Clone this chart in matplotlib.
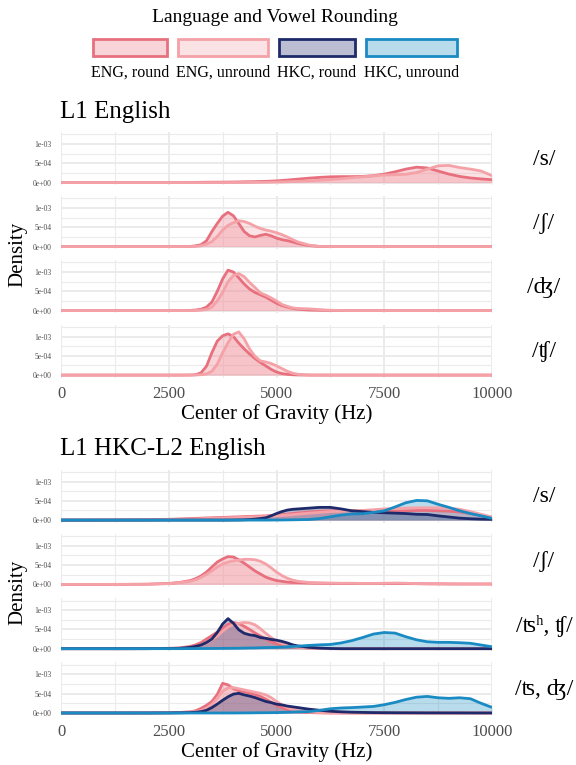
import matplotlib
matplotlib.use("Agg")
import matplotlib.pyplot as plt
from matplotlib.patches import Rectangle
import numpy as np

cog_hz = [0, 500, 1000, 1500, 2000, 2500,
          2750, 3000,
          3125, 3250, 3375, 3500, 3625, 3750, 3875, 4000,
          4125, 4250, 4375, 4500, 4625, 4750, 4875, 5000,
          5125, 5250, 5375, 5500,
          5750, 6000, 6250, 6500, 6750, 7000, 7250, 7500, 7750,
          8000, 8250, 8500, 8750, 9000, 9250, 9500, 9750, 10000]

groups = ["ENG, round", "ENG, unround", "HKC, round", "HKC, unround"]
line_colors = ["#E8707E", "#F4A2A8", "#1E2A6A", "#1A8BC2"]

# densities in units of 1e-4
# ---- L1 English ----
l1_s_eng_round = [0, 0, 0, 0, 0, 0.01,
                  0.02, 0.05,
                  0.06, 0.08, 0.09, 0.10, 0.11, 0.12, 0.13, 0.15,
                  0.17, 0.20, 0.22, 0.25, 0.28, 0.32, 0.38, 0.45,
                  0.55, 0.65, 0.78, 0.90,
                  1.15, 1.35, 1.50, 1.55, 1.55, 1.60, 1.80, 2.20, 2.80,
                  3.50, 4.00, 3.80, 3.00, 2.20, 1.60, 1.20, 0.95, 0.75]
l1_s_eng_unround = [0, 0, 0, 0, 0, 0,
                    0, 0,
                    0, 0, 0, 0, 0, 0.01, 0.01, 0.02,
                    0.02, 0.03, 0.04, 0.05, 0.07, 0.09, 0.12, 0.15,
                    0.18, 0.22, 0.27, 0.32,
                    0.45, 0.60, 0.80, 1.00, 1.25, 1.50, 1.75, 1.95, 2.05,
                    2.15, 2.60, 3.50, 4.35, 4.45, 3.90, 3.50, 3.00, 1.80]
l1_sh_eng_round = [0, 0, 0, 0, 0, 0,
                   0.01, 0.05,
                   0.2, 0.5, 1.5, 3.9, 6.0, 7.9, 8.9, 8.0,
                   6.0, 3.9, 2.8, 2.5, 2.9, 3.2, 2.8, 2.2,
                   1.8, 1.55, 1.2, 0.8,
                   0.25, 0.03, 0, 0, 0, 0, 0, 0, 0,
                   0, 0, 0, 0, 0, 0, 0, 0, 0]
l1_sh_eng_unround = [0, 0, 0, 0, 0, 0,
                     0, 0.02,
                     0.05, 0.2, 0.6, 1.3, 2.6, 4.3, 5.5, 6.2,
                     6.7, 6.5, 6.0, 5.3, 4.7, 4.3, 4.0, 3.6,
                     3.1, 2.5, 1.8, 1.2,
                     0.4, 0.05, 0, 0, 0, 0, 0, 0, 0,
                     0, 0, 0, 0, 0, 0, 0, 0, 0]
l1_dz_eng_round = [0, 0, 0, 0, 0, 0,
                   0, 0.05,
                   0.15, 0.35, 0.9, 2.2, 5.0, 8.2, 10.5, 10.0,
                   8.5, 6.9, 5.6, 4.7, 4.1, 3.5, 2.7, 1.9,
                   1.3, 0.9, 0.55, 0.35,
                   0.15, 0.08, 0.03, 0, 0, 0, 0, 0, 0,
                   0, 0, 0, 0, 0, 0, 0, 0, 0]
l1_dz_eng_unround = [0, 0, 0, 0, 0, 0,
                     0, 0,
                     0.03, 0.1, 0.3, 0.9, 2.5, 4.7, 7.5, 9.1,
                     9.6, 8.8, 7.3, 6.0, 4.6, 4.0, 3.3, 2.5,
                     1.6, 1.1, 0.7, 0.55,
                     0.45, 0.25, 0.08, 0.02, 0, 0, 0, 0, 0,
                     0, 0, 0, 0, 0, 0, 0, 0, 0]
l1_ch_eng_round = [0, 0, 0, 0, 0, 0,
                   0, 0.02,
                   0.1, 0.6, 2.3, 5.8, 8.8, 10.2, 10.7, 10.0,
                   8.3, 6.8, 5.5, 4.3, 3.3, 2.4, 1.5, 0.8,
                   0.4, 0.2, 0.08, 0.03,
                   0, 0, 0, 0, 0, 0, 0, 0, 0,
                   0, 0, 0, 0, 0, 0, 0, 0, 0]
l1_ch_eng_unround = [0, 0, 0, 0, 0, 0,
                     0, 0,
                     0.03, 0.1, 0.3, 1.0, 2.8, 5.8, 8.4, 10.6,
                     11.2, 9.4, 6.8, 4.9, 3.7, 3.4, 3.0, 2.4,
                     1.7, 1.0, 0.5, 0.2,
                     0.03, 0, 0, 0, 0, 0, 0, 0, 0,
                     0, 0, 0, 0, 0, 0, 0, 0, 0]

# ---- L1 HKC-L2 English ----
l2_s_eng_round = [0, 0, 0.02, 0.05, 0.1, 0.2,
                  0.3, 0.4,
                  0.45, 0.5, 0.55, 0.6, 0.65, 0.7, 0.75, 0.8,
                  0.85, 0.9, 0.95, 1.0, 1.05, 1.1, 1.2, 1.3,
                  1.4, 1.55, 1.7, 1.85,
                  2.1, 2.3, 2.4, 2.45, 2.45, 2.4, 2.35, 2.3, 2.3,
                  2.4, 2.5, 2.5, 2.4, 2.3, 2.1, 1.7, 1.2, 0.7]
l2_s_eng_unround = [0, 0, 0.01, 0.03, 0.06, 0.12,
                    0.18, 0.25,
                    0.3, 0.35, 0.4, 0.45, 0.5, 0.55, 0.6, 0.65,
                    0.7, 0.75, 0.8, 0.85, 0.9, 0.95, 1.0, 1.1,
                    1.2, 1.3, 1.4, 1.55,
                    1.8, 2.0, 2.2, 2.3, 2.4, 2.5, 2.7, 2.9, 3.0,
                    3.1, 3.2, 3.2, 3.2, 3.1, 2.8, 2.2, 1.5, 0.8]
l2_s_hkc_round = [0, 0, 0, 0, 0, 0,
                  0, 0,
                  0, 0, 0, 0, 0, 0, 0.01, 0.02,
                  0.04, 0.08, 0.15, 0.25, 0.4, 0.6, 1.1, 1.7,
                  2.2, 2.6, 2.8, 2.9,
                  3.1, 3.3, 3.3, 2.9, 2.4, 2.2, 2.0, 1.9, 1.8,
                  1.7, 1.5, 1.45, 1.1, 0.8, 0.5, 0.35, 0.25, 0.2]
l2_s_hkc_unround = [0, 0, 0, 0, 0, 0,
                    0, 0,
                    0, 0, 0, 0, 0, 0, 0, 0,
                    0, 0, 0, 0, 0, 0, 0.01, 0.02,
                    0.03, 0.05, 0.07, 0.1,
                    0.15, 0.4, 0.85, 1.3, 1.6, 1.65, 2.0, 2.4, 3.4,
                    4.5, 5.1, 5.0, 4.1, 3.3, 2.4, 1.7, 1.1, 0.45]
l2_sh_eng_round = [0, 0, 0, 0.01, 0.05, 0.25,
                   0.5, 1.0,
                   1.5, 2.2, 3.2, 4.5, 5.8, 6.6, 7.2, 7.1,
                   6.4, 5.5, 4.5, 3.5, 2.7, 1.9, 1.4, 1.0,
                   0.8, 0.6, 0.5, 0.45,
                   0.35, 0.3, 0.25, 0.22, 0.2, 0.2, 0.2, 0.2, 0.2,
                   0.2, 0.18, 0.15, 0.15, 0.12, 0.1, 0.1, 0.1, 0.1]
l2_sh_eng_unround = [0, 0, 0, 0.01, 0.04, 0.2,
                     0.45, 0.8,
                     1.2, 1.8, 2.6, 3.5, 4.5, 5.3, 5.8, 6.1,
                     6.3, 6.5, 6.5, 6.4, 6.0, 5.3, 4.3, 3.2,
                     2.3, 1.6, 1.1, 0.8,
                     0.5, 0.4, 0.35, 0.3, 0.3, 0.25, 0.25, 0.3, 0.35,
                     0.3, 0.2, 0.15, 0.12, 0.1, 0.1, 0.1, 0.1, 0.1]
l2_ch_eng_round = [0, 0, 0, 0, 0.02, 0.1,
                   0.2, 0.6,
                   1.0, 1.6, 2.5, 3.4, 4.3, 5.3, 6.3, 6.8,
                   6.5, 5.8, 5.0, 4.1, 3.3, 2.5, 1.8, 1.3,
                   0.9, 0.6, 0.4, 0.3,
                   0.15, 0.05, 0, 0, 0, 0, 0, 0, 0,
                   0, 0, 0, 0, 0, 0, 0, 0, 0]
l2_ch_eng_unround = [0, 0, 0, 0, 0.01, 0.05,
                     0.1, 0.3,
                     0.5, 0.9, 1.5, 2.3, 3.3, 4.5, 5.6, 6.3,
                     6.6, 6.8, 6.7, 6.2, 5.2, 4.0, 2.9, 2.0,
                     1.4, 0.9, 0.6, 0.4,
                     0.2, 0.1, 0.03, 0, 0, 0, 0, 0, 0,
                     0, 0, 0, 0, 0, 0, 0, 0, 0]
l2_ch_hkc_round = [0, 0, 0, 0, 0.01, 0.05,
                   0.1, 0.35,
                   0.6, 0.95, 1.6, 2.5, 4.2, 6.4, 7.8, 6.6,
                   4.9, 4.0, 3.6, 3.4, 2.9, 2.7, 2.4, 2.2,
                   1.9, 1.5, 1.0, 0.7,
                   0.35, 0.15, 0.05, 0, 0, 0, 0, 0, 0,
                   0, 0, 0, 0, 0, 0, 0, 0, 0]
l2_ch_hkc_unround = [0, 0, 0, 0, 0, 0.01,
                     0.01, 0.02,
                     0.03, 0.04, 0.05, 0.06, 0.07, 0.08, 0.09, 0.1,
                     0.12, 0.15, 0.18, 0.2, 0.24, 0.28, 0.32, 0.35,
                     0.42, 0.5, 0.58, 0.65,
                     0.85, 1.0, 1.1, 1.5, 2.1, 2.9, 3.8, 4.2, 4.05,
                     3.1, 2.3, 1.8, 1.65, 1.65, 1.55, 1.4, 0.95, 0.5]
l2_dz_eng_round = [0, 0, 0, 0, 0.02, 0.08,
                   0.15, 0.3,
                   0.6, 1.2, 2.0, 3.0, 4.8, 7.7, 7.3, 6.3,
                   5.8, 5.5, 5.2, 4.8, 4.3, 3.6, 2.8, 2.0,
                   1.4, 0.9, 0.5, 0.3,
                   0.1, 0.03, 0, 0, 0, 0, 0, 0, 0,
                   0, 0, 0, 0, 0, 0, 0, 0, 0]
l2_dz_eng_unround = [0, 0, 0, 0, 0.01, 0.05,
                     0.1, 0.25,
                     0.4, 0.6, 1.2, 2.2, 3.8, 5.7, 6.5, 6.6,
                     6.3, 6.0, 5.7, 5.4, 5.1, 4.7, 4.0, 3.0,
                     2.1, 1.4, 0.9, 0.6,
                     0.25, 0.1, 0.03, 0, 0, 0, 0, 0, 0,
                     0, 0, 0, 0, 0, 0, 0, 0, 0]
l2_dz_hkc_round = [0, 0, 0, 0, 0, 0.02,
                   0.05, 0.1,
                   0.2, 0.35, 0.7, 1.4, 2.3, 3.3, 4.2, 4.9,
                   5.1, 4.7, 4.4, 4.0, 3.5, 3.0, 2.7, 2.3,
                   2.1, 1.8, 1.6, 1.4,
                   1.0, 0.7, 0.45, 0.3, 0.2, 0.15, 0.1, 0.08, 0.06,
                   0.05, 0.04, 0.03, 0.03, 0.02, 0.02, 0.01, 0.01, 0.01]
l2_dz_hkc_unround = [0, 0, 0, 0, 0, 0,
                     0, 0,
                     0, 0, 0, 0, 0, 0, 0, 0,
                     0.01, 0.02, 0.03, 0.05, 0.06, 0.07, 0.08, 0.1,
                     0.15, 0.2, 0.25, 0.3,
                     0.35, 0.7, 1.1, 1.3, 1.4, 1.55, 1.7, 2.15, 2.75,
                     3.5, 4.1, 4.3, 3.95, 3.8, 3.95, 3.7, 2.5, 1.45]

section_titles = ["L1 English", "L1 HKC-L2 English"]
l1_labels = ["/s/", "/ʃ/", "/ʤ/", "/ʧ/"]
l2_labels = ["/s/", "/ʃ/", "/ʦʰ, ʧ/", "/ʦ, ʤ/"]
l1_panels = [[l1_s_eng_round, l1_s_eng_unround, None, None],
             [l1_sh_eng_round, l1_sh_eng_unround, None, None],
             [l1_dz_eng_round, l1_dz_eng_unround, None, None],
             [l1_ch_eng_round, l1_ch_eng_unround, None, None]]
l2_panels = [[l2_s_eng_round, l2_s_eng_unround, l2_s_hkc_round, l2_s_hkc_unround],
             [l2_sh_eng_round, l2_sh_eng_unround, None, None],
             [l2_ch_eng_round, l2_ch_eng_unround, l2_ch_hkc_round, l2_ch_hkc_unround],
             [l2_dz_eng_round, l2_dz_eng_unround, l2_dz_hkc_round, l2_dz_hkc_unround]]

x_ticks = [0, 2500, 5000, 7500, 10000]
y_ticks = [0, 5e-4, 1e-3]
y_tick_labels = ["0e+00", "5e-04", "1e-03"]

W, H = 576, 765
SERIF = ["Liberation Serif", "DejaVu Serif"]
GRID = "#EBEBEB"
TICK_GREY = "#4D4D4D"


def fx(px):
    return px / W


def fy(py):
    return 1 - py / H


def draw_panel(ax, curves, show_x):
    x = np.array(cog_hz)
    for vals, col in zip(curves, line_colors):
        if vals is None:
            continue
        y = np.array(vals) * 1e-4
        ax.fill_between(x, 0, y, color=col, alpha=0.3, lw=0)
        ax.plot(x, y, color=col, lw=2.0, solid_capstyle="butt")
    ax.set_xlim(0, 10000)
    ax.set_ylim(-0.0625e-3, 1.3125e-3)
    ax.set_xticks(x_ticks)
    ax.set_xticks([1250, 3750, 6250, 8750], minor=True)
    ax.set_yticks(y_ticks)
    ax.set_yticks([2.5e-4, 7.5e-4, 1.25e-3], minor=True)
    ax.set_yticklabels(y_tick_labels, fontsize=5.5, color=TICK_GREY, family=SERIF)
    if show_x:
        ax.set_xticklabels([str(t) for t in x_ticks], fontsize=12,
                           color=TICK_GREY, family=SERIF)
    else:
        ax.set_xticklabels([])
    ax.tick_params(which="both", length=0)
    ax.tick_params(axis="y", pad=7)
    ax.tick_params(axis="x", pad=6)
    ax.grid(which="major", color=GRID, lw=1.4)
    ax.grid(which="minor", color=GRID, lw=0.8)
    ax.set_axisbelow(True)
    for s in ax.spines.values():
        s.set_visible(False)


def main():
    plt.rcParams["font.family"] = SERIF
    fig = plt.figure(figsize=(W / 100, H / 100), dpi=100)

    panel_h = 53
    tops = [[132, 196, 260, 324.5], [469.5, 533.8, 598.1, 662.4]]
    all_panels = [l1_panels, l2_panels]
    all_labels = [l1_labels, l2_labels]

    for g in range(2):
        for i in range(4):
            top = tops[g][i]
            ax = fig.add_axes([fx(61), fy(top + panel_h), fx(431), panel_h / H])
            draw_panel(ax, all_panels[g][i], i == 3)
            # facet strip label on the right
            fig.text(fx(544), fy(top + panel_h / 2 + 1), all_labels[g][i],
                     ha="center", va="center", fontsize=17, family=SERIF)
        # group title
        fig.text(fx(60), fy(tops[g][0] - 20), section_titles[g],
                 ha="left", va="center", fontsize=18, family=SERIF)
        # y label
        mid = (tops[g][0] + tops[g][3] + panel_h) / 2
        fig.text(fx(18), fy(mid), "Density", rotation=90, ha="center",
                 va="center", fontsize=15, family=SERIF)
        # x label
        fig.text(fx(277), fy(tops[g][3] + panel_h + 37), "Center of Gravity (Hz)",
                 ha="center", va="center", fontsize=15, family=SERIF)

    # legend drawn by hand, labels under the keys
    fig.text(fx(275), fy(18), "Language and Vowel Rounding", ha="center",
             va="center", fontsize=14, family=SERIF)
    key_x = [(93, 167), (178, 268), (279, 355), (366, 457)]
    for (x0, x1), name, col in zip(key_x, groups, line_colors):
        fig.patches.append(Rectangle((fx(x0), fy(56)), fx(x1 - x0), 16.5 / H,
                                     transform=fig.transFigure,
                                     facecolor=matplotlib.colors.to_rgba(col, 0.3),
                                     edgecolor=col, lw=2.0))
        fig.text(fx((x0 + x1) / 2), fy(73), name, ha="center", va="center",
                 fontsize=11.5, family=SERIF)

    fig.savefig("out.png", dpi=100)


if __name__ == "__main__":
    main()
